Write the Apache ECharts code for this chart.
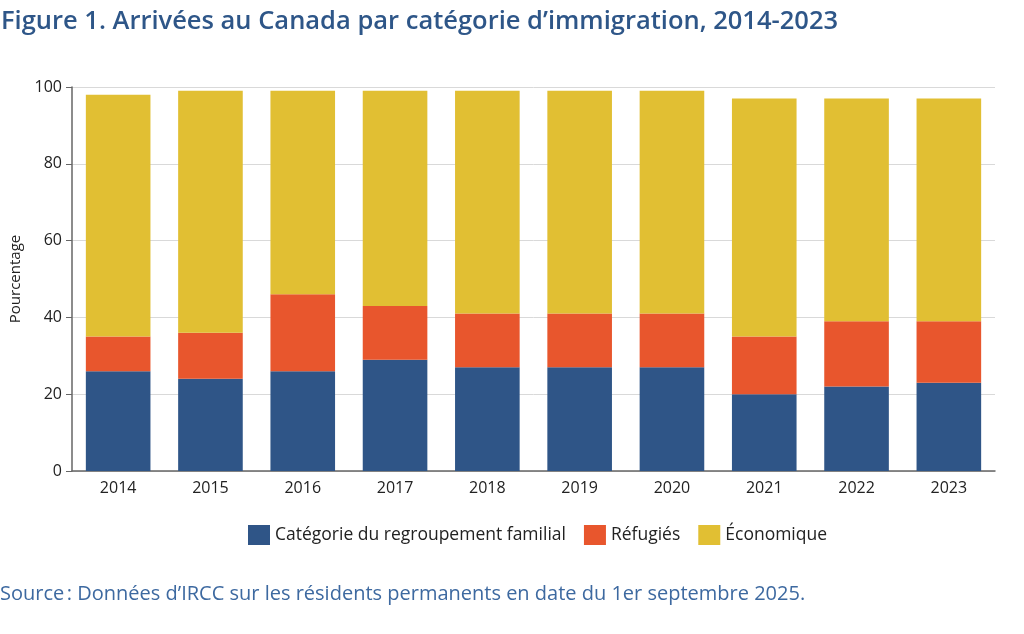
<!DOCTYPE html>
<html>
<head>
<meta charset="utf-8">
<script src="https://cdn.jsdelivr.net/npm/echarts@6/dist/echarts.min.js"></script>
<style>
  html, body { margin: 0; padding: 0; background: #fff; }
  #chart { width: 1024px; height: 634px; }
</style>
</head>
<body>
<div id="chart"></div>
<script>
// données (en %)
var years = ['2014', '2015', '2016', '2017', '2018', '2019', '2020', '2021', '2022', '2023'];
var famille = [26, 24, 26, 29, 27, 27, 27, 20, 22, 23];
var refugies = [9, 12, 20, 14, 14, 14, 14, 15, 17, 16];
var economique = [63, 63, 53, 56, 58, 58, 58, 62, 58, 58];
var seriesNames = ['Catégorie du regroupement familial', 'Réfugiés', 'Économique'];
var colors = ['#2f5587', '#e8562d', '#e1bf33'];

var font = '"Open Sans", Lato, sans-serif';
var myChart = echarts.init(document.getElementById('chart'));

function barSeries(name, data, color) {
	return {
		name: name,
		type: 'bar',
		stack: 'total',
		barWidth: '70%',
		data: data,
		itemStyle: { color: color },
		emphasis: { disabled: true }
	};
}

var option = {
	animation: false,
	textStyle: { fontFamily: font },
	title: [{
		text: 'Figure 1. Arrivées au Canada par catégorie d\u2019immigration, 2014-2023',
		left: 0, top: 4,
		padding: [5, 5, 5, 1],
		textStyle: { color: '#2e5688', fontSize: 25.5, fontWeight: 600, fontFamily: font }
	}, {
		text: 'Source\u202f: Données d\u2019IRCC sur les résidents permanents en date du 1er septembre 2025.',
		left: 0, top: 579,
		padding: [5, 5, 5, 0],
		textStyle: { color: '#3d69a0', fontSize: 20, fontWeight: 'normal', fontFamily: font }
	}],
	legend: {
		data: seriesNames,
		left: 243,
		top: 520,
		itemWidth: 22,
		itemHeight: 20,
		itemGap: 18,
		icon: 'rect',
		textStyle: { fontSize: 17.5, color: '#222', fontFamily: font }
	},
	grid: { left: 72, right: 29, top: 87, bottom: 163 },
	xAxis: {
		type: 'category',
		data: years,
		axisLine: { lineStyle: { color: '#666', width: 1.5 } },
		axisTick: { show: false },
		axisLabel: { fontSize: 16, color: '#222', margin: 9 }
	},
	yAxis: {
		type: 'value',
		min: 0, max: 100, interval: 20,
		name: 'Pourcentage',
		nameLocation: 'middle',
		nameGap: 47,
		nameTextStyle: { fontSize: 15, color: '#222' },
		axisLine: { show: true, lineStyle: { color: '#666', width: 1.5 } },
		axisTick: { show: true, length: 6, lineStyle: { color: '#666' } },
		axisLabel: { fontSize: 16, color: '#222', margin: 10 },
		splitLine: { lineStyle: { color: '#d9d9d9' } }
	},
	series: [
		barSeries(seriesNames[0], famille, colors[0]),
		barSeries(seriesNames[1], refugies, colors[1]),
		barSeries(seriesNames[2], economique, colors[2])
	]
};
myChart.setOption(option);
</script>
</body>
</html>
